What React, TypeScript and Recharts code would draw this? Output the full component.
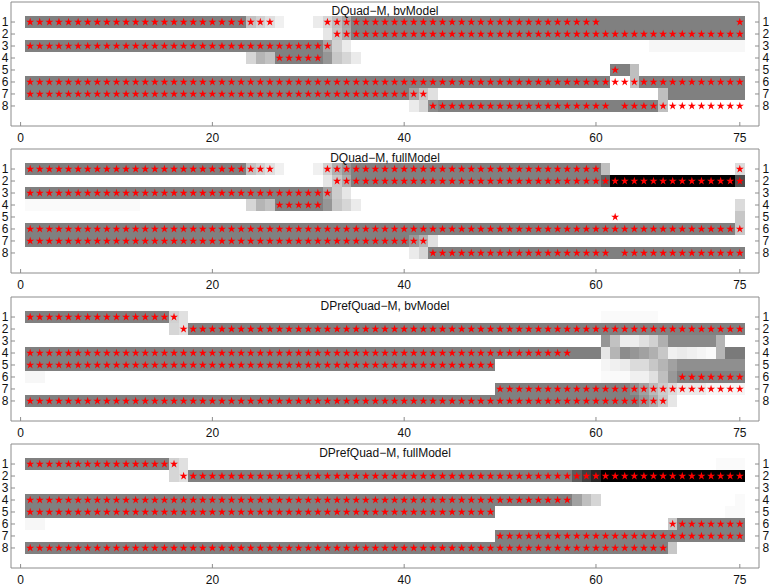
import React from 'react';
import { ScatterChart, Scatter, XAxis, YAxis, ReferenceArea, Symbols } from 'recharts';

// [row, fromCol, toCol, level]  level: 0 = white, 1 = black
type Run = [number, number, number, number];
// [row, fromCol, toCol]
type StarRun = [number, number, number];

const X_TICKS = [0, 20, 40, 60, 75];
const ROW_TICKS = [1, 2, 3, 4, 5, 6, 7, 8];
const TITLES = ['DQuad−M, bvModel', 'DQuad−M, fullModel', 'DPrefQuad−M, bvModel', 'DPrefQuad−M, fullModel'];

const dqBvCells: Run[] = [
  [1, 1, 23, 0.5], [1, 24, 24, 0.24], [1, 25, 25, 0.18], [1, 26, 26, 0.12], [1, 27, 27, 0.06],
  [1, 31, 31, 0.08], [1, 32, 32, 0.16], [1, 33, 33, 0.25], [1, 34, 34, 0.35], [1, 35, 75, 0.5],
  [2, 32, 32, 0.1], [2, 33, 33, 0.22], [2, 34, 34, 0.33], [2, 35, 75, 0.5],
  [3, 1, 31, 0.5], [3, 32, 32, 0.35], [3, 33, 33, 0.18], [3, 34, 34, 0.08], [3, 66, 75, 0.03],
  [4, 24, 24, 0.16], [4, 25, 25, 0.29], [4, 26, 26, 0.24], [4, 27, 31, 0.5], [4, 32, 32, 0.41],
  [4, 33, 33, 0.22], [4, 34, 34, 0.16], [4, 35, 35, 0.08],
  [5, 62, 63, 0.5], [5, 64, 64, 0.25],
  [6, 1, 61, 0.5], [6, 64, 64, 0.25], [6, 65, 75, 0.5],
  [7, 1, 40, 0.5], [7, 41, 41, 0.35], [7, 42, 42, 0.22], [7, 43, 43, 0.12], [7, 67, 67, 0.25], [7, 68, 75, 0.5],
  [8, 41, 41, 0.08], [8, 42, 42, 0.16], [8, 43, 43, 0.45], [8, 44, 66, 0.5], [8, 67, 67, 0.25],
];
const dqBvStars: StarRun[] = [
  [1, 1, 26], [1, 32, 60], [1, 75, 75], [2, 33, 75], [3, 1, 32], [4, 27, 31],
  [5, 62, 62], [6, 1, 75], [7, 1, 42], [8, 43, 61], [8, 63, 75],
];

const dqFullCells: Run[] = [
  [1, 1, 23, 0.5], [1, 24, 24, 0.24], [1, 25, 25, 0.18], [1, 26, 26, 0.12], [1, 27, 27, 0.06],
  [1, 31, 31, 0.06], [1, 32, 32, 0.18], [1, 33, 33, 0.31], [1, 34, 34, 0.4], [1, 35, 60, 0.5],
  [1, 61, 61, 0.25], [1, 75, 75, 0.14],
  [2, 32, 32, 0.1], [2, 33, 33, 0.22], [2, 34, 34, 0.33], [2, 35, 60, 0.5], [2, 61, 61, 0.62],
  [2, 62, 74, 1], [2, 75, 75, 0.7],
  [3, 1, 31, 0.5], [3, 32, 32, 0.37], [3, 33, 33, 0.2], [3, 34, 34, 0.1],
  [4, 1, 12, 0.02], [4, 24, 24, 0.16], [4, 25, 25, 0.29], [4, 26, 26, 0.24], [4, 27, 31, 0.5],
  [4, 32, 32, 0.41], [4, 33, 33, 0.22], [4, 34, 34, 0.16], [4, 35, 35, 0.08], [4, 75, 75, 0.14],
  [5, 75, 75, 0.22],
  [6, 1, 74, 0.5], [6, 75, 75, 0.22],
  [7, 1, 40, 0.5], [7, 41, 41, 0.4], [7, 42, 42, 0.3], [7, 43, 43, 0.12],
  [8, 41, 41, 0.08], [8, 42, 42, 0.16], [8, 43, 75, 0.5],
];
const dqFullStars: StarRun[] = [
  [1, 1, 26], [1, 32, 60], [1, 75, 75], [2, 33, 75], [3, 1, 32], [4, 27, 31],
  [5, 62, 62], [6, 1, 75], [7, 1, 42], [8, 43, 61], [8, 63, 75],
];

const dpqBvCells: Run[] = [
  [1, 1, 15, 0.5], [1, 16, 16, 0.18], [1, 17, 17, 0.12], [1, 61, 66, 0.02],
  [2, 16, 16, 0.16], [2, 17, 17, 0.12], [2, 18, 75, 0.5],
  [3, 61, 61, 0.41], [3, 62, 62, 0.24], [3, 63, 64, 0.07], [3, 65, 65, 0.12], [3, 66, 66, 0.18],
  [3, 67, 67, 0.31], [3, 68, 72, 0.46], [3, 73, 73, 0.29],
  [4, 1, 60, 0.5], [4, 61, 61, 0.1], [4, 62, 62, 0.29], [4, 63, 63, 0.45], [4, 64, 64, 0.41],
  [4, 65, 65, 0.37], [4, 66, 66, 0.31], [4, 67, 67, 0.22], [4, 68, 68, 0.06], [4, 69, 69, 0.08],
  [4, 70, 70, 0.06], [4, 71, 71, 0.04], [4, 72, 72, 0.02], [4, 73, 73, 0.29], [4, 74, 75, 0.52],
  [5, 1, 49, 0.5], [5, 61, 61, 0.04], [5, 62, 62, 0.06], [5, 63, 63, 0.08], [5, 64, 65, 0.14],
  [5, 66, 66, 0.22], [5, 67, 67, 0.29], [5, 68, 68, 0.37], [5, 69, 75, 0.44],
  [6, 1, 2, 0.03], [6, 61, 63, 0.02], [6, 64, 65, 0.06], [6, 66, 66, 0.12], [6, 67, 67, 0.25],
  [6, 68, 68, 0.4], [6, 69, 75, 0.5],
  [7, 50, 63, 0.5], [7, 64, 64, 0.45], [7, 65, 65, 0.37], [7, 66, 66, 0.27], [7, 67, 67, 0.2],
  [7, 68, 68, 0.14], [7, 69, 71, 0.08], [7, 72, 75, 0.04],
  [8, 1, 64, 0.5], [8, 65, 65, 0.41], [8, 66, 66, 0.33], [8, 67, 67, 0.22], [8, 68, 68, 0.1],
];
const dpqBvStars: StarRun[] = [
  [1, 1, 16], [2, 17, 75], [4, 1, 57], [5, 1, 49], [6, 69, 75], [7, 50, 75], [8, 1, 67],
];

const dpqFullCells: Run[] = [
  [1, 1, 15, 0.5], [1, 16, 16, 0.18], [1, 17, 17, 0.12], [1, 73, 75, 0.02],
  [2, 16, 16, 0.16], [2, 17, 17, 0.12], [2, 18, 57, 0.5], [2, 58, 58, 0.64], [2, 59, 59, 0.75],
  [2, 60, 60, 0.85], [2, 61, 75, 1],
  [4, 1, 57, 0.5], [4, 58, 58, 0.37], [4, 59, 59, 0.25], [4, 60, 60, 0.16], [4, 75, 75, 0.02],
  [5, 1, 49, 0.5], [5, 74, 75, 0.02],
  [6, 1, 2, 0.03], [6, 68, 68, 0.22], [6, 69, 75, 0.5],
  [7, 50, 75, 0.5],
  [8, 1, 67, 0.5], [8, 68, 68, 0.22],
];
const dpqFullStars: StarRun[] = [
  [1, 1, 16], [2, 17, 75], [4, 1, 57], [5, 1, 49], [6, 68, 75], [7, 50, 75], [8, 1, 67],
];

const PANELS = [
  { title: TITLES[0], cells: dqBvCells, stars: dqBvStars },
  { title: TITLES[1], cells: dqFullCells, stars: dqFullStars },
  { title: TITLES[2], cells: dpqBvCells, stars: dpqBvStars },
  { title: TITLES[3], cells: dpqFullCells, stars: dpqFullStars },
];

const FONT = '"Liberation Sans", Arial, sans-serif';
const FRAME = '#8c8c8c';
const STAR = '#ff0000';

function shade(v: number): string {
  const g = Math.round(255 * (1 - v));
  return `rgb(${g},${g},${g})`;
}

function starPoints(runs: StarRun[]) {
  const pts: { x: number; y: number }[] = [];
  runs.forEach(([row, a, b]) => {
    for (let c = a; c <= b; c++) pts.push({ x: c, y: row });
  });
  return pts;
}

const StarShape = ({ cx, cy }: any) => <Symbols cx={cx} cy={cy} type="star" size={20} fill={STAR} stroke="none" />;

const XTick = ({ x, y, payload }: any) => (
  <g>
    <line x1={x} x2={x} y1={y} y2={y - 4} stroke={FRAME} />
    <text x={x} y={y + 15.5} textAnchor="middle" fontSize={12} fontFamily={FONT} fill="#111">
      {payload.value}
    </text>
  </g>
);

const YTickLeft = ({ x, y, payload }: any) => (
  <g>
    <line x1={x} x2={x + 4} y1={y} y2={y} stroke={FRAME} />
    <text x={x - 2.5} y={y + 4.2} textAnchor="end" fontSize={12} fontFamily={FONT} fill="#111">
      {payload.value}
    </text>
  </g>
);

const YTickRight = ({ x, y, payload }: any) => (
  <g>
    <line x1={x - 4} x2={x} y1={y} y2={y} stroke={FRAME} />
    <text x={x + 3.5} y={y + 4.2} textAnchor="start" fontSize={12} fontFamily={FONT} fill="#111">
      {payload.value}
    </text>
  </g>
);

function Panel({ title, cells, stars, top }: { title: string; cells: Run[]; stars: StarRun[]; top: number }) {
  return (
    <div style={{ position: 'absolute', left: 0, top: top - 2, width: 771, height: 147 }}>
      <ScatterChart width={771} height={147} margin={{ top: 0, right: 0, bottom: 0, left: 0 }}>
        <XAxis
          type="number" dataKey="x" domain={[-1, 77]} allowDataOverflow ticks={X_TICKS} interval={0}
          height={21} tickSize={0} tickMargin={0} tickLine={false} axisLine={{ stroke: FRAME }}
          tick={(p: any) => <XTick {...p} />}
        />
        <XAxis
          xAxisId="top" orientation="top" type="number" domain={[-1, 77]} allowDataOverflow
          height={2} tick={false} tickLine={false} axisLine={{ stroke: FRAME }}
        />
        <YAxis
          type="number" dataKey="y" domain={[-0.67, 9.67]} allowDataOverflow reversed ticks={ROW_TICKS} interval={0}
          width={11} tickSize={0} tickMargin={0} tickLine={false} axisLine={{ stroke: FRAME }}
          tick={(p: any) => <YTickLeft {...p} />}
        />
        <YAxis
          yAxisId="right" orientation="right" type="number" domain={[-0.67, 9.67]} allowDataOverflow reversed
          ticks={ROW_TICKS} interval={0} width={12} tickSize={0} tickMargin={0} tickLine={false}
          axisLine={{ stroke: FRAME }} tick={(p: any) => <YTickRight {...p} />}
        />
        {cells.map(([row, a, b, v], i) => (
          <ReferenceArea
            key={i}
            x1={a - 0.5}
            x2={b + 0.5}
            y1={row - 0.5}
            y2={row + 0.5}
            fill={shade(v)}
            fillOpacity={1}
            stroke="none"
            ifOverflow="visible"
            shapeRendering="crispEdges"
          />
        ))}
        <Scatter data={starPoints(stars)} shape={(p: any) => <StarShape {...p} />} isAnimationActive={false} />
      </ScatterChart>
      <div
        style={{
          position: 'absolute', left: 11, top: 4, width: 748, textAlign: 'center',
          fontFamily: FONT, fontSize: 12, lineHeight: '14px', color: '#111', pointerEvents: 'none',
        }}
      >
        {title}
      </div>
    </div>
  );
}

export default function App() {
  return (
    <div style={{ position: 'absolute', left: 0, top: 0, width: 771, height: 585, overflow: 'hidden', background: '#fff', fontFamily: FONT }}>
      {PANELS.map((p, i) => (
        <Panel key={i} title={p.title} cells={p.cells} stars={p.stars} top={2 + i * 147.4} />
      ))}
    </div>
  );
}
